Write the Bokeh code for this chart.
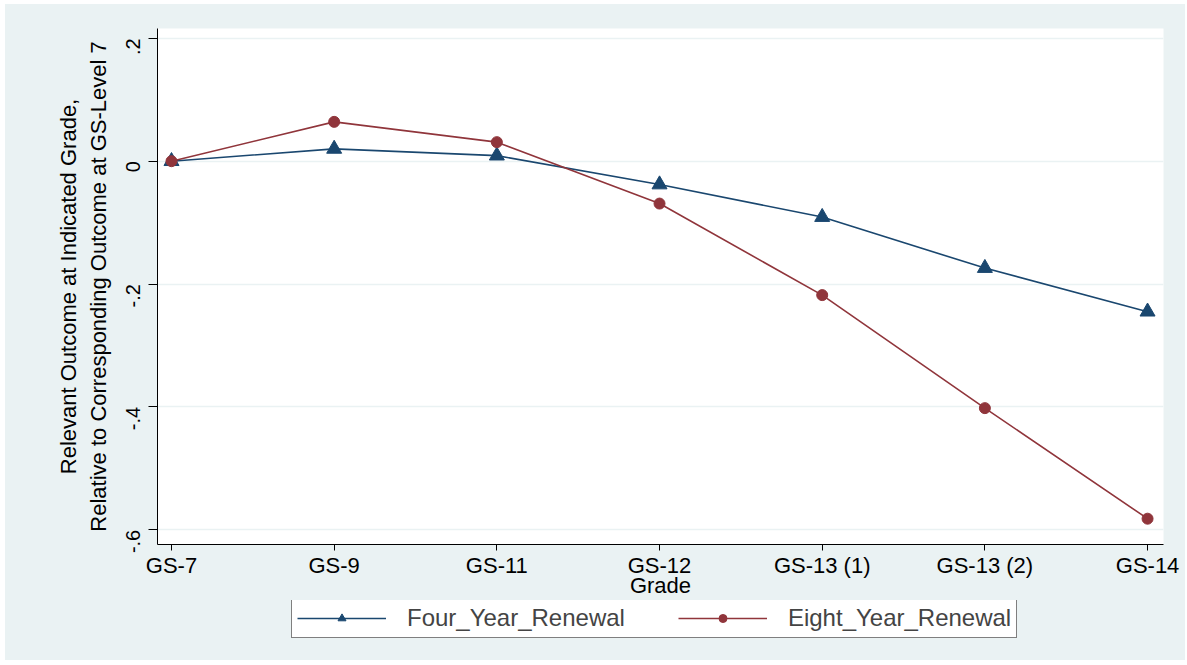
import math
from bokeh.plotting import figure
from bokeh.layouts import column
from bokeh.models import FixedTicker, Legend, LegendItem, Range1d
from bokeh.embed import file_html
from bokeh.resources import INLINE

grades = ["GS-7", "GS-9", "GS-11", "GS-12", "GS-13 (1)", "GS-13 (2)", "GS-14"]
four_year = [0.0, 0.020, 0.009, -0.038, -0.091, -0.174, -0.245]
eight_year = [0.0, 0.064, 0.031, -0.069, -0.218, -0.402, -0.582]
y_ticks = [-0.6, -0.4, -0.2, 0.0, 0.2]
y_tick_labels = ["-.6", "-.4", "-.2", "0", ".2"]
series_names = ["Four_Year_Renewal", "Eight_Year_Renewal"]

xs = list(range(len(grades)))
BLUE = "#1a476f"
RED = "#90353b"
BG = "#eaf2f3"
FONT = "Liberation Sans"
W = 1180

p = figure(width=W, height=596, output_backend="svg", toolbar_location=None,
           x_range=(-0.086, 6.098), y_range=(-0.624, 0.216),
           min_border_left=152, min_border_top=24, min_border_right=22, min_border_bottom=56)
p.border_fill_color = BG
p.background_fill_color = "white"
p.outline_line_color = None

p.xgrid.grid_line_color = None
p.ygrid.grid_line_color = BG
p.ygrid.grid_line_width = 1.5
p.ygrid.ticker = FixedTicker(ticks=y_ticks)

# x axis
p.xaxis.ticker = FixedTicker(ticks=xs)
p.xaxis.major_label_overrides = {i: g for i, g in enumerate(grades)}
p.xaxis.minor_tick_line_color = None
p.xaxis.major_tick_out = 6
p.xaxis.major_tick_in = 0
p.xaxis.major_label_text_font = FONT
p.xaxis.major_label_text_font_size = "22px"
p.xaxis.major_label_text_color = "black"
p.xaxis.major_label_standoff = 2
p.xaxis.axis_label = "Grade"
p.xaxis.axis_label_text_font = FONT
p.xaxis.axis_label_text_font_size = "22px"
p.xaxis.axis_label_text_font_style = "normal"
p.xaxis.axis_label_text_color = "black"
p.xaxis.axis_label_standoff = -8
p.xaxis.axis_line_color = "black"
p.xaxis.major_tick_line_color = "black"

# y axis
p.yaxis.ticker = FixedTicker(ticks=y_ticks)
p.yaxis.major_label_overrides = {t: l for t, l in zip(y_ticks, y_tick_labels)}
p.yaxis.minor_tick_line_color = None
p.yaxis.major_tick_out = 9
p.yaxis.major_tick_in = 0
p.yaxis.major_label_orientation = math.pi / 2
p.yaxis.major_label_text_font = FONT
p.yaxis.major_label_text_font_size = "20px"
p.yaxis.major_label_text_color = "black"
p.yaxis.major_label_standoff = 15
p.yaxis.axis_label = "Relevant Outcome at Indicated Grade,\nRelative to Corresponding Outcome at GS-Level 7"
p.yaxis.axis_label_text_font = FONT
p.yaxis.axis_label_text_font_size = "22px"
p.yaxis.axis_label_text_font_style = "normal"
p.yaxis.axis_label_text_color = "black"
p.yaxis.axis_label_text_line_height = 1.2
p.yaxis.axis_label_standoff = 6
p.yaxis.axis_line_color = "black"
p.yaxis.major_tick_line_color = "black"

p.line(xs, four_year, line_color=BLUE, line_width=1.6)
p.scatter(xs, four_year, marker="triangle", size=15, fill_color=BLUE, line_color=BLUE)
p.line(xs, eight_year, line_color=RED, line_width=1.6)
p.scatter(xs, eight_year, marker="circle", size=11, fill_color=RED, line_color=RED)

# legend strip (its series are drawn out of view; only the legend shows)
p2 = figure(width=W, height=60, output_backend="svg", toolbar_location=None,
            x_axis_type=None, y_axis_type=None,
            x_range=Range1d(100, 101), y_range=Range1d(100, 101),
            min_border_left=0, min_border_right=0, min_border_top=0, min_border_bottom=0)
p2.border_fill_color = BG
p2.background_fill_color = None
p2.outline_line_color = None
p2.grid.grid_line_color = None
k1 = p2.line(xs, four_year, line_color=BLUE, line_width=1.6)
m1 = p2.scatter(xs, four_year, marker="triangle", size=14, fill_color=BLUE, line_color=BLUE)
k2 = p2.line(xs, eight_year, line_color=RED, line_width=1.6)
m2 = p2.scatter(xs, eight_year, marker="circle", size=10, fill_color=RED, line_color=RED)

legend = Legend(items=[LegendItem(label=series_names[0], renderers=[k1, m1]),
                       LegendItem(label=series_names[1], renderers=[k2, m2])],
                orientation="horizontal", location=(134, 22))
legend.label_text_font = FONT
legend.label_text_font_size = "24px"
legend.glyph_width = 89
legend.spacing = 53
legend.label_standoff = 21
legend.padding = 5
legend.margin = 0
legend.border_line_color = "black"
legend.border_line_width = 1
legend.background_fill_color = "white"
legend.background_fill_alpha = 1
p2.add_layout(legend, "center")

layout = column(p, p2, spacing=0, margin=(4, 0, 0, 5), styles={"background-color": BG})
open("out.html", "w").write(file_html(layout, INLINE))
